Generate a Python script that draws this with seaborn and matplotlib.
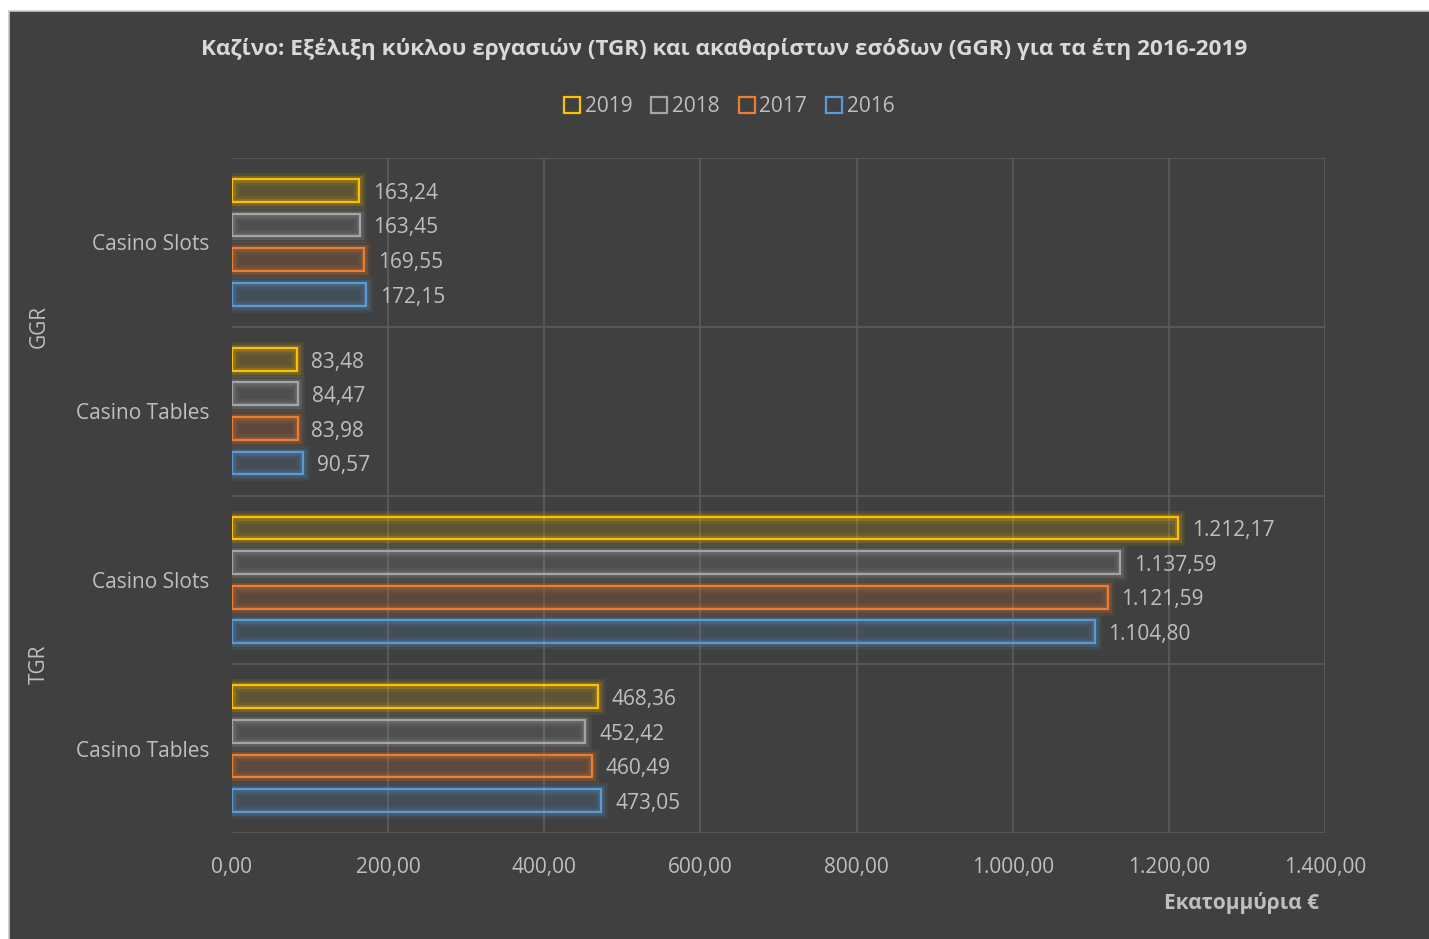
import matplotlib
matplotlib.use("Agg")
import matplotlib.pyplot as plt
import matplotlib.patheffects as pe
import matplotlib.transforms as mtrans
from matplotlib.patches import Rectangle
from matplotlib.lines import Line2D
import seaborn as sns
import pandas as pd

# ---- data ----
groups = ["GGR", "GGR", "TGR", "TGR"]
categories = ["Casino Slots", "Casino Tables", "Casino Slots", "Casino Tables"]
years = ["2019", "2018", "2017", "2016"]
values = {
    "2019": [163.24, 83.48, 1212.17, 468.36],
    "2018": [163.45, 84.47, 1137.59, 452.42],
    "2017": [169.55, 83.98, 1121.59, 460.49],
    "2016": [172.15, 90.57, 1104.80, 473.05],
}
x_ticks = [0, 200, 400, 600, 800, 1000, 1200, 1400]
title = "Καζίνο: Εξέλιξη κύκλου εργασιών (TGR) και ακαθαρίστων εσόδων (GGR) για τα έτη 2016-2019"
x_label = "Εκατομμύρια €"

colors = {"2019": "#FFC000", "2018": "#A5A5A5", "2017": "#ED7D31", "2016": "#5B9BD5"}

keys = [f"{g}|{c}" for g, c in zip(groups, categories)]
rows = []
for y in years:
    for k, v in zip(keys, values[y]):
        rows.append({"key": k, "year": y, "value": v})
df = pd.DataFrame(rows)

def gr(v):
    s = f"{v:,.2f}"
    return s.replace(",", "X").replace(".", ",").replace("X", ".")

# ---- style ----
sns.set_theme(style="dark")
FONT = ["Open Sans", "DejaVu Sans"]
plt.rcParams["font.family"] = FONT
BG = "#404040"
TXT = "#bfbfbf"
GRID = "#5a5a5a"

fig = plt.figure(figsize=(14.29, 9.39), dpi=100, facecolor="white")
fig.patches.append(Rectangle((9 / 1429, -0.05), 1.1, (939 - 11) / 939 + 0.05,
                             transform=fig.transFigure, facecolor=BG,
                             edgecolor="#c8c8c8", linewidth=1.2, zorder=-10))
ax = fig.add_axes([232 / 1429, (939 - 833) / 939, (1325 - 232) / 1429, (833 - 158) / 939])
ax.set_facecolor(BG)

sns.barplot(data=df, y="key", x="value", hue="year", order=keys, hue_order=years,
            palette=colors, orient="h", width=0.82, gap=0.34, ax=ax, legend=False,
            saturation=1)

for cont, y in zip(ax.containers, years):
    c = colors[y]
    for p in cont.patches:
        p.set_facecolor(matplotlib.colors.to_rgba(c, 0.06))
        p.set_edgecolor(c)
        p.set_linewidth(1.6)
        p.set_zorder(3)
        p.set_path_effects([
            pe.Stroke(linewidth=9, foreground=matplotlib.colors.to_rgba(c, 0.10)),
            pe.Stroke(linewidth=5, foreground=matplotlib.colors.to_rgba(c, 0.18)),
            pe.Normal(),
        ])
    anns = ax.bar_label(cont, labels=[gr(v) for v in cont.datavalues], padding=10,
                        color=TXT, fontsize=15, family=FONT)
    for a in anns:
        a.xyann = (10, -2)

ax.set_xlim(0, 1400)
ax.set_ylim(3.5, -0.5)
for s in ax.spines.values():
    s.set_visible(False)
ax.grid(False)
ax.vlines(x_ticks[1:], -0.5, 3.5, color=GRID, linewidth=1.3, zorder=1)
ax.hlines([-0.5, 0.5, 1.5, 2.5, 3.5], 0, 1400, color=GRID, linewidth=1.3, zorder=1)

ax.set_xticks(x_ticks)
ax.set_xticklabels([gr(t) for t in x_ticks], color=TXT, fontsize=15)
ax.set_yticks(range(len(keys)))
ax.set_yticklabels(categories, color=TXT, fontsize=15)
ax.tick_params(axis="x", length=0, pad=17)
ax.tick_params(axis="y", length=0, pad=16)
ax.set_xlabel("")
ax.set_ylabel("")

# group labels
tr = mtrans.blended_transform_factory(fig.transFigure, ax.transData)
for g, yc in [("GGR", 0.5), ("TGR", 2.5)]:
    ax.text(39 / 1429, yc, g, transform=tr, color=TXT,
            fontsize=15, rotation=90, ha="center", va="center")

fig.text(724 / 1429, 1 - 49 / 939, title, ha="center", va="center", color="#d9d9d9",
         fontsize=16.2, fontweight="bold")
fig.text(1242 / 1429, 1 - 903 / 939, x_label, ha="center", va="center", color=TXT,
         fontsize=15, fontweight="bold")

# legend
handles = [Line2D([], [], marker="s", linestyle="none", markersize=11,
                  markerfacecolor="none", markeredgecolor=colors[y], markeredgewidth=1.6)
           for y in years]
fig.legend(handles, years, loc="center", bbox_to_anchor=(728 / 1429, 1 - 107 / 939),
           ncol=4, frameon=False, fontsize=15, labelcolor=TXT, handletextpad=0.1,
           columnspacing=0.8, handlelength=1.0)

fig.savefig("out.png", dpi=100, facecolor="white")
